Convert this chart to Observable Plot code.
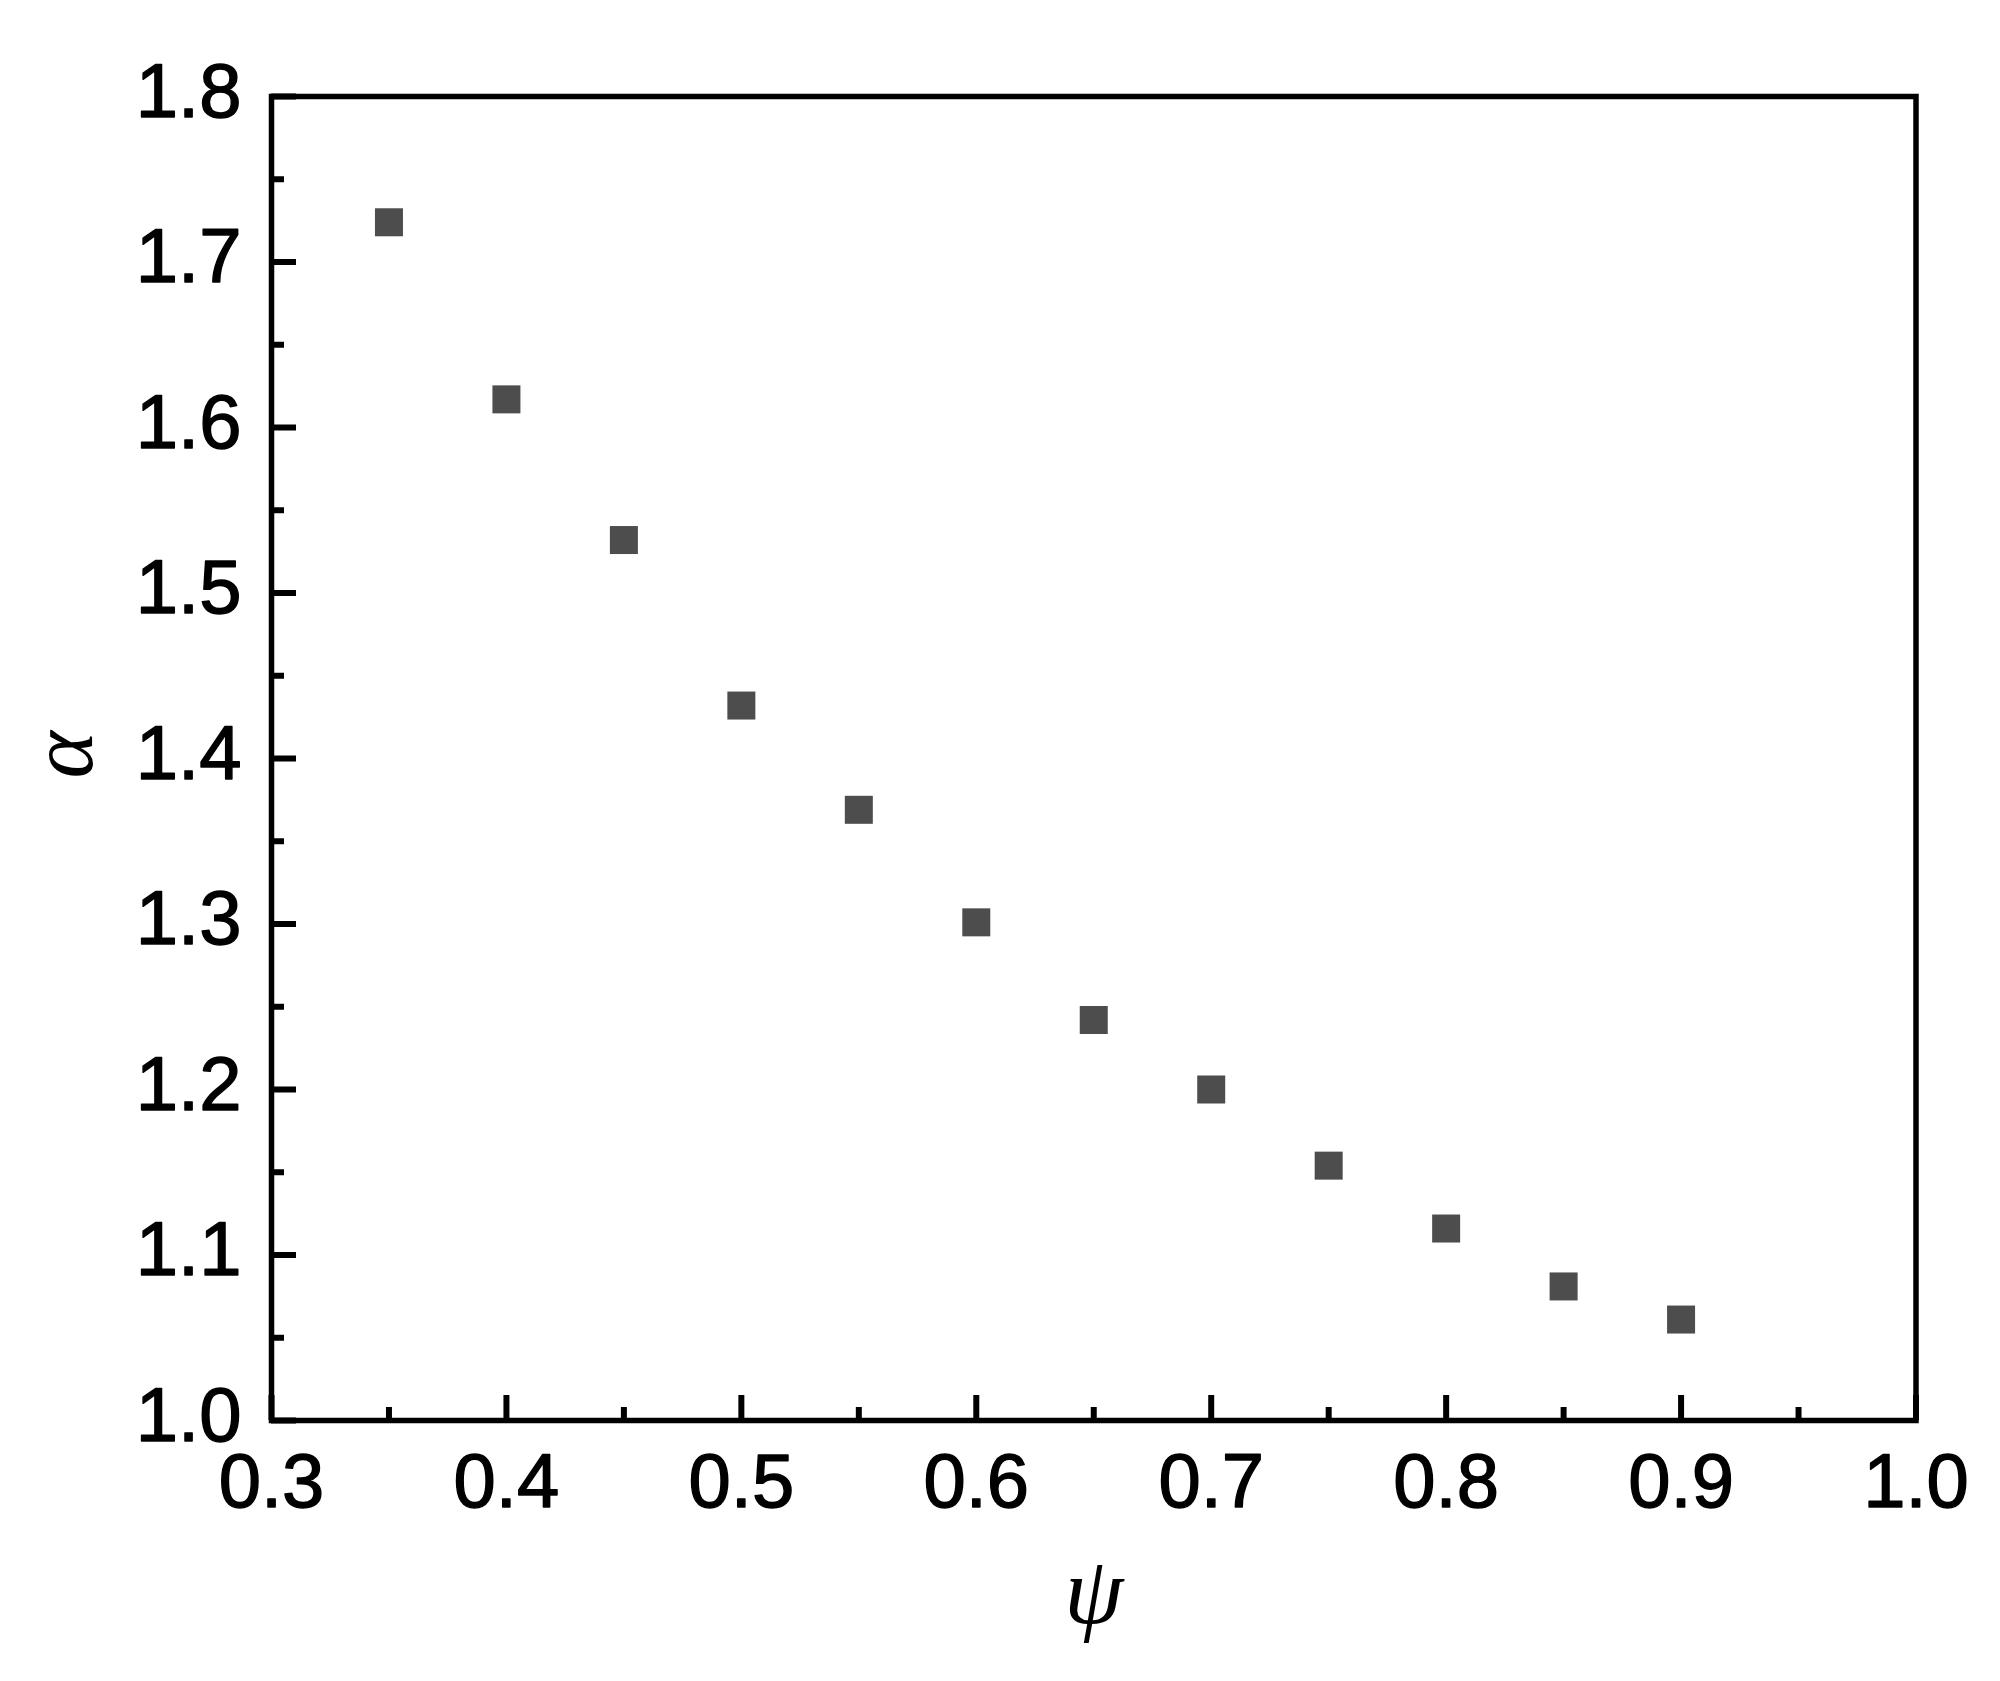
<!DOCTYPE html>
<html><head><meta charset="utf-8">
<script src="https://cdn.jsdelivr.net/npm/d3@7"></script>
<script src="https://cdn.jsdelivr.net/npm/@observablehq/plot@0.6"></script>
<style>body{margin:0;background:#fff}</style>
</head><body><div id="chart"></div>
<script>
// Data
const psi = [0.35, 0.40, 0.45, 0.50, 0.55, 0.60, 0.65, 0.70, 0.75, 0.80, 0.85, 0.90];
const alpha = [1.724, 1.617, 1.532, 1.432, 1.369, 1.301, 1.242, 1.200, 1.154, 1.116, 1.081, 1.061];

// Tick values
const xMajor = [0.3, 0.4, 0.5, 0.6, 0.7, 0.8, 0.9, 1.0];
const xMinor = [0.35, 0.45, 0.55, 0.65, 0.75, 0.85, 0.95];
const yMajor = [1.0, 1.1, 1.2, 1.3, 1.4, 1.5, 1.6, 1.7, 1.8];
const yMinor = [1.05, 1.15, 1.25, 1.35, 1.45, 1.55, 1.65, 1.75];
const xLabel = "ψ";
const yLabel = "α";

const W = 2000, H = 1681, mL = 271, mR = 84.5, mT = 96, mB = 261;
const innerW = W - mL - mR, innerH = H - mT - mB;
const data = psi.map((p, i) => ({psi: p, alpha: alpha[i]}));
const fmt = d => d.toFixed(1);
const sans = "'Liberation Sans', Arial, sans-serif";
const serif = "'Liberation Serif', 'Times New Roman', serif";

const chart = Plot.plot({
  width: W, height: H,
  marginLeft: mL, marginRight: mR, marginTop: mT, marginBottom: mB,
  style: {background: "#fff", fontFamily: sans, color: "#000"},
  x: {domain: [0.3, 1.0]},
  y: {domain: [1.0, 1.8]},
  marks: [
    Plot.axisX(xMajor, {tickSize: 0, tickPadding: 33, fontSize: 76, tickFormat: fmt, label: null,
      textStroke: "#000", textStrokeWidth: 1.4}),
    Plot.axisY(yMajor, {tickSize: 0, tickPadding: 30, fontSize: 76, tickFormat: fmt, label: null, dy: -4,
      textStroke: "#000", textStrokeWidth: 1.4}),
    Plot.ruleX(xMajor, {x: d => d, insetTop: innerH - 25, stroke: "#000", strokeWidth: 6}),
    Plot.ruleX(xMinor, {x: d => d, insetTop: innerH - 13, stroke: "#000", strokeWidth: 6}),
    Plot.ruleY(yMajor, {y: d => d, insetRight: innerW - 25, stroke: "#000", strokeWidth: 6}),
    Plot.ruleY(yMinor, {y: d => d, insetRight: innerW - 13, stroke: "#000", strokeWidth: 6}),
    Plot.frame({stroke: "#000", strokeWidth: 5.5}),
    Plot.dot(data, {x: "psi", y: "alpha", symbol: "square", r: 15.8, fill: "#4d4d4d", stroke: "none"}),
    Plot.text([xLabel], {frameAnchor: "bottom", dy: 202, text: d => d, fontFamily: serif, fontStyle: "italic", fontSize: 95, fill: "#000"}),
    Plot.text([yLabel], {frameAnchor: "left", dx: -208, dy: 20, rotate: -90, text: d => d, fontFamily: serif, fontStyle: "italic", fontSize: 90, fill: "#000"})
  ]
});
document.getElementById("chart").append(chart);
</script>
</body></html>
